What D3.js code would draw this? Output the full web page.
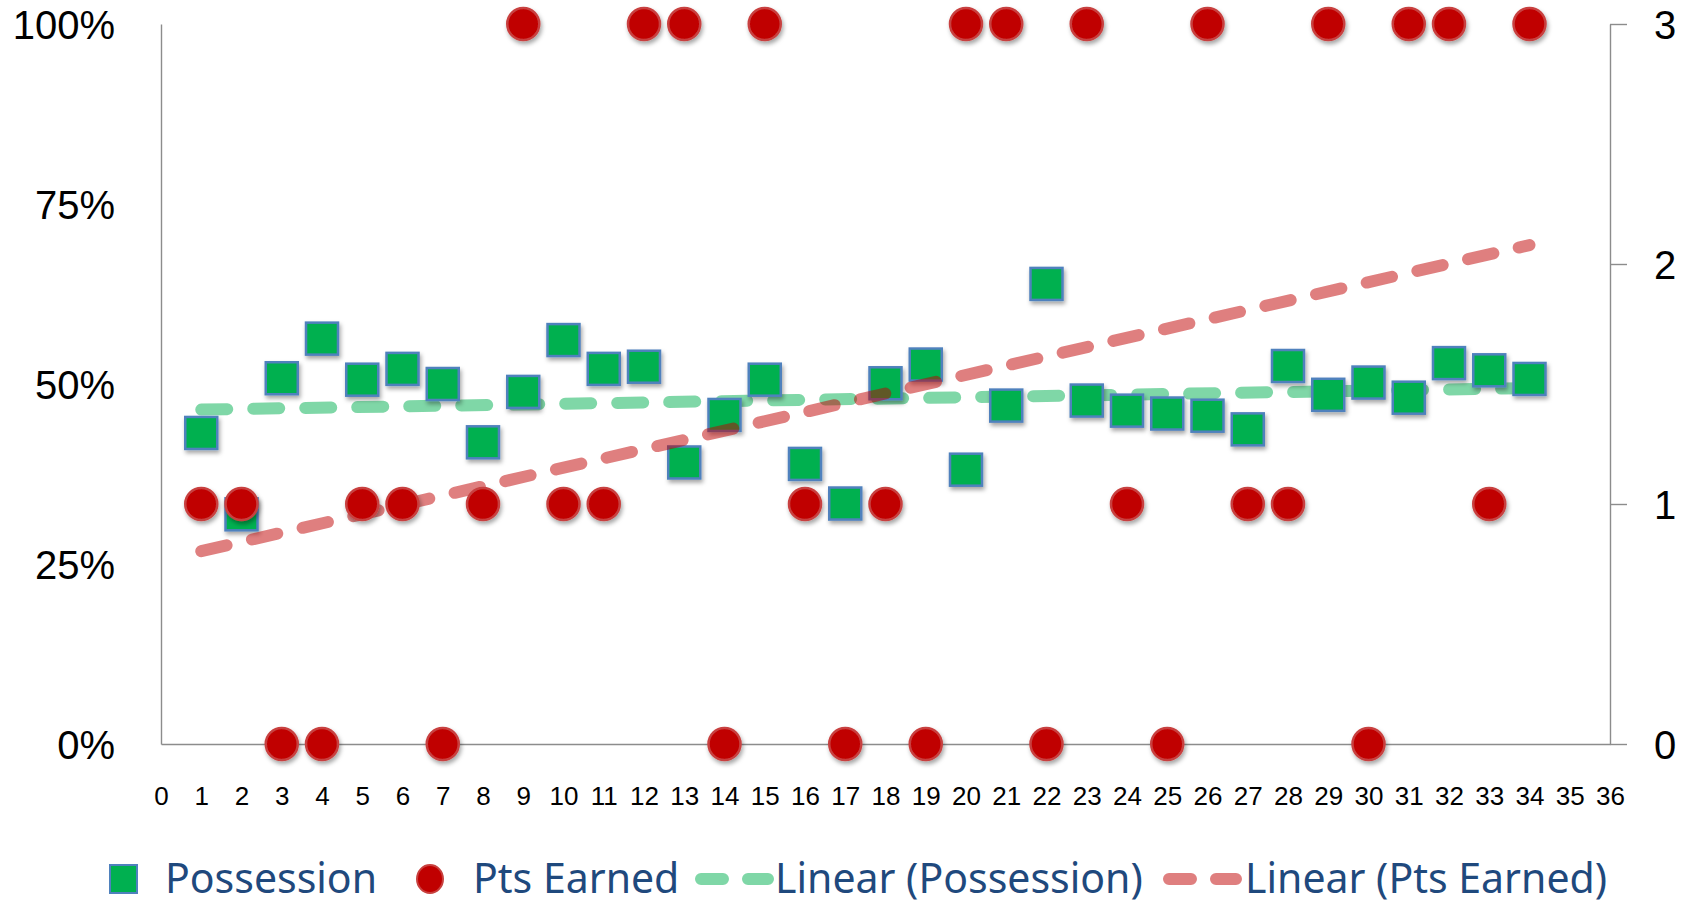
<!DOCTYPE html>
<html>
<head>
<meta charset="utf-8">
<script src="https://cdn.jsdelivr.net/npm/d3@7"></script>
<style>
  html, body { margin: 0; padding: 0; background: #fff; }
  svg { display: block; font-family: "Noto Sans", "DejaVu Sans", sans-serif; }
</style>
</head>
<body>
<svg id="chart" width="1698" height="906"></svg>
<script>
// ---- data ----
const games = [1,2,3,4,5,6,7,8,9,10,11,12,13,14,15,16,17,18,19,20,21,22,23,24,25,26,27,28,29,30,31,32,33,34];
const possession = [0.432,0.319,0.508,0.563,0.506,0.521,0.500,0.419,0.489,0.561,0.521,0.524,0.391,0.457,0.506,0.389,0.334,0.501,0.527,0.381,0.470,0.639,0.477,0.463,0.459,0.456,0.437,0.525,0.485,0.502,0.481,0.529,0.519,0.507];
const ptsEarned = [1,1,0,0,1,1,0,1,3,1,1,3,3,0,3,1,0,1,0,3,3,0,3,1,0,3,1,1,3,0,3,3,1,3];
const xTickValues = d3.range(0, 37);
const leftTickValues = [0, 0.25, 0.5, 0.75, 1];
const rightTickValues = [0, 1, 2, 3];
const seriesNames = ["Possession", "Pts Earned", "Linear (Possession)", "Linear (Pts Earned)"];

// ---- layout ----
const svg = d3.select("#chart");
const L = 161, R = 1610, T = 24, B = 744;
const x = d3.scaleLinear().domain([0, 36]).range([L, R]);
const yL = d3.scaleLinear().domain([0, 1]).range([B, T]);
const yR = d3.scaleLinear().domain([0, 3]).range([B, T]);

const axisColor = "#8c8c8c";
const greenFill = "#00B050", squareStroke = "#4F81BD";
const redFill = "#C00000", circleStroke = "#C8413F";
const legendText = "#1F497D";
const tickFont = "Liberation Sans";

const defs = svg.append("defs");
const f = defs.append("filter").attr("id", "shadow").attr("x", "-50%").attr("y", "-50%").attr("width", "200%").attr("height", "200%");
f.append("feDropShadow").attr("dx", 1.5).attr("dy", 3).attr("stdDeviation", 2).attr("flood-color", "#000").attr("flood-opacity", 0.35);

// ---- axes ----
const xAxis = d3.axisBottom(x).tickValues(xTickValues).tickSizeInner(0).tickSizeOuter(0).tickPadding(43).tickFormat(d3.format("d"));
const gx = svg.append("g").attr("transform", `translate(0,${B})`).call(xAxis);
gx.selectAll("text").attr("font-size", 26).attr("fill", "#000").attr("font-family", tickFont);

const yAxisL = d3.axisLeft(yL).tickValues(leftTickValues).tickSizeInner(0).tickSizeOuter(0).tickPadding(46).tickFormat(d3.format(".0%"));
const gl = svg.append("g").attr("transform", `translate(${L},0)`).call(yAxisL);
gl.selectAll("text").attr("font-size", 40).attr("dy", "0.37em").attr("fill", "#000").attr("font-family", tickFont);

const yAxisR = d3.axisRight(yR).tickValues(rightTickValues).tickSizeInner(17).tickSizeOuter(0).tickPadding(27).tickFormat(d3.format("d"));
const gr = svg.append("g").attr("transform", `translate(${R},0)`).call(yAxisR);
gr.selectAll("text").attr("font-size", 40).attr("dy", "0.37em").attr("fill", "#000").attr("font-family", tickFont);

[gx, gl, gr].forEach(g => {
  g.selectAll(".domain").attr("stroke", axisColor).attr("stroke-width", 1.4);
  g.selectAll(".tick line").attr("stroke", axisColor).attr("stroke-width", 1.4);
});

// ---- trendlines (least squares on the series) ----
function fit(xs, ys) {
  const n = xs.length, mx = d3.mean(xs), my = d3.mean(ys);
  let sxy = 0, sxx = 0;
  for (let i = 0; i < n; i++) { sxy += (xs[i] - mx) * (ys[i] - my); sxx += (xs[i] - mx) ** 2; }
  const b = sxy / sxx, a = my - b * mx;
  return v => a + b * v;
}
const fPos = fit(games, possession);
const fPts = fit(games, ptsEarned);
const xEnds = d3.extent(games);

function trend(fn, yScale, color) {
  const line = d3.line().x(d => x(d)).y(d => yScale(fn(d)));
  return svg.append("path").datum(xEnds).attr("d", line)
    .attr("fill", "none").attr("stroke", color).attr("stroke-opacity", 0.5)
    .attr("stroke-width", 12).attr("stroke-linecap", "round").attr("stroke-dasharray", "26 26");
}

// green trend under squares
trend(fPos, yL, greenFill);

// squares
const sq = 32;
svg.append("g").selectAll("rect").data(games).join("rect")
  .attr("x", (d, i) => x(d) - sq / 2).attr("y", (d, i) => yL(possession[i]) - sq / 2)
  .attr("width", sq).attr("height", sq)
  .attr("fill", greenFill).attr("stroke", squareStroke).attr("stroke-width", 2.5)
  .attr("filter", "url(#shadow)");

// red trend
trend(fPts, yR, redFill);

// circles
svg.append("g").selectAll("ellipse").data(games).join("ellipse")
  .attr("cx", d => x(d)).attr("cy", (d, i) => yR(ptsEarned[i]))
  .attr("rx", 16).attr("ry", 16)
  .attr("fill", redFill).attr("stroke", circleStroke).attr("stroke-width", 2.5)
  .attr("filter", "url(#shadow)");

// ---- legend ----
const lg = svg.append("g");
const ly = 879, lbase = 893, lfs = 41;
lg.append("rect").attr("x", 110).attr("y", ly - 14).attr("width", 27).attr("height", 28)
  .attr("fill", greenFill).attr("stroke", squareStroke).attr("stroke-width", 2);
lg.append("text").attr("x", 165).attr("y", lbase).text(seriesNames[0]);
lg.append("ellipse").attr("cx", 430).attr("cy", ly).attr("rx", 13).attr("ry", 14)
  .attr("fill", redFill).attr("stroke", circleStroke).attr("stroke-width", 2);
lg.append("text").attr("x", 473).attr("y", lbase).text(seriesNames[1]);
lg.append("path").attr("d", `M701,${ly}H768`).attr("stroke", greenFill).attr("stroke-opacity", 0.5)
  .attr("stroke-width", 12).attr("stroke-linecap", "round").attr("stroke-dasharray", "22 25").attr("fill", "none");
lg.append("text").attr("x", 775).attr("y", lbase).text(seriesNames[2]);
lg.append("path").attr("d", `M1169,${ly}H1236`).attr("stroke", redFill).attr("stroke-opacity", 0.5)
  .attr("stroke-width", 12).attr("stroke-linecap", "round").attr("stroke-dasharray", "22 25").attr("fill", "none");
lg.append("text").attr("x", 1245).attr("y", lbase).text(seriesNames[3]);
lg.selectAll("text").attr("font-size", lfs).attr("fill", legendText).attr("font-family", "Noto Sans");
</script>
</body>
</html>
